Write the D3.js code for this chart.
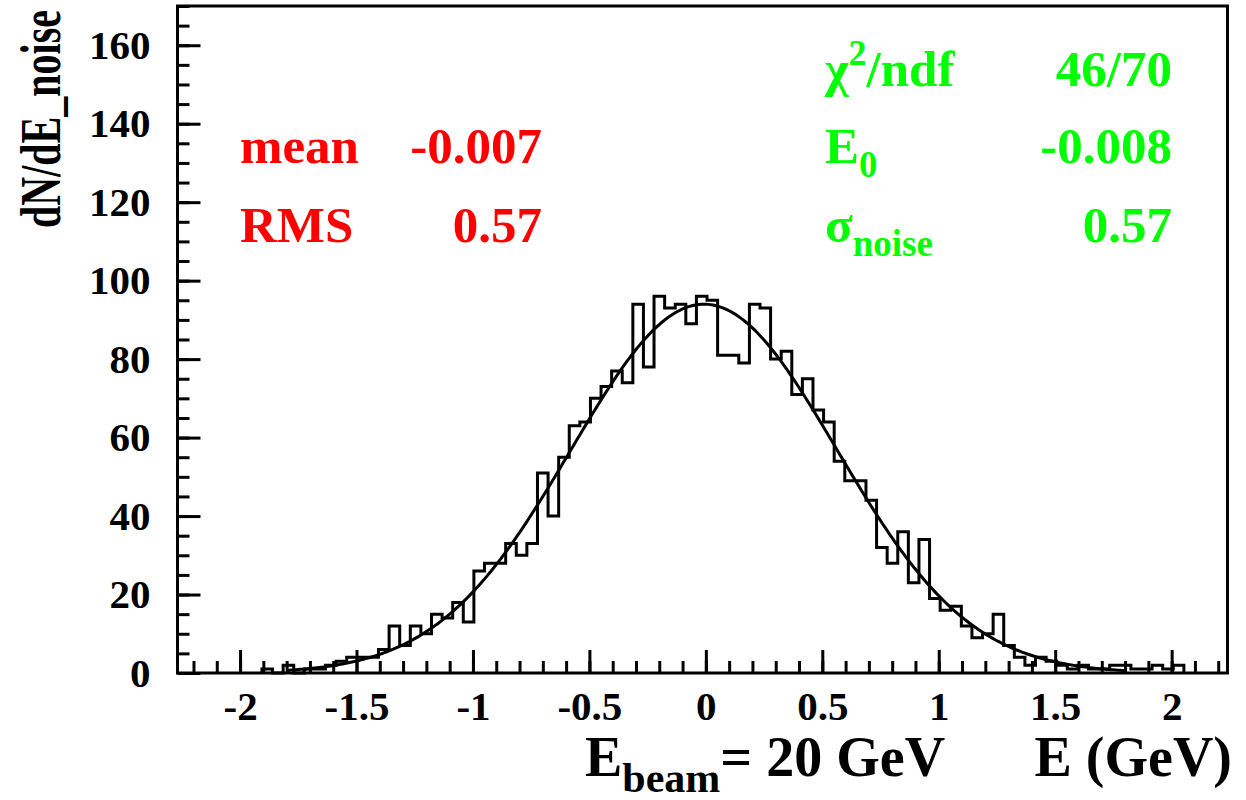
<!DOCTYPE html>
<html>
<head>
<meta charset="utf-8">
<script src="https://cdn.jsdelivr.net/npm/d3@7"></script>
<style>
  body { margin: 0; background: #fff; }
  text { font-family: "Liberation Serif", "Times New Roman", serif; font-weight: bold; }
</style>
</head>
<body>
<div id="chart"></div>
<script>
var width = 1246, height = 800,
    frame = {left: 177.5, right: 1227.5, top: 6, bottom: 673};

// histogram: first bin low edge, bin width, counts per bin
var binLow = -1.906,
    binWidth = 0.0455,
    counts = [1, 0, 2, 0, 1, 1, 2, 3, 4, 4, 4, 6,
              12, 7, 12, 10, 15, 14, 18, 13,
              26, 28, 28, 33, 30, 33,
              51, 40, 55, 63, 64, 70,
              73, 77, 74, 94, 78, 96, 93, 94, 89, 96,
              95, 81, 81, 79, 94, 93, 80, 82, 71, 75,
              67, 64, 54, 49, 49, 44, 32, 28, 36, 23,
              34, 19, 16, 17, 12, 9, 10, 15, 7, 4,
              2, 4, 3, 2, 1, 2, 1, 1, 2, 2, 1, 1, 2, 1, 2];

var xTicks = [-2, -1.5, -1, -0.5, 0, 0.5, 1, 1.5, 2],
    yTicks = [0, 20, 40, 60, 80, 100, 120, 140, 160];

// gaussian fit
var fitE0 = -0.008, fitSigma = 0.57, fitAmp = 94, fitRange = [-1.8, 1.8];

var statNames = ["mean", "RMS"],
    statValues = ["-0.007", "0.57"],
    fitValues = ["46/70", "-0.008", "0.57"];

var svg = d3.select("#chart").append("svg")
    .attr("width", width)
    .attr("height", height);

var x = d3.scaleLinear().domain([-2.2686, 2.2398]).range([frame.left, frame.right]);
var y = d3.scaleLinear().domain([0, 170]).range([frame.bottom, frame.top]);

// minor ticks
var xMinor = d3.range(-22, 23).map(d => d / 10);
var yMinor = d3.range(0, 171, 5);

svg.append("g")
    .attr("transform", "translate(0," + frame.bottom + ")")
    .call(d3.axisBottom(x).tickValues(xMinor).tickSize(-12).tickFormat(""))
    .call(g => g.select(".domain").remove());
svg.append("g")
    .attr("transform", "translate(" + frame.left + ",0)")
    .call(d3.axisLeft(y).tickValues(yMinor).tickSize(-12).tickFormat(""))
    .call(g => g.select(".domain").remove());

var xAxis = svg.append("g")
    .attr("transform", "translate(0," + frame.bottom + ")")
    .call(d3.axisBottom(x).tickValues(xTicks).tickSize(-23).tickPadding(18).tickFormat(d => d));
xAxis.select(".domain").remove();

var yAxis = svg.append("g")
    .attr("transform", "translate(" + frame.left + ",0)")
    .call(d3.axisLeft(y).tickValues(yTicks).tickSize(-23).tickPadding(27).tickFormat(d => d));
yAxis.select(".domain").remove();

svg.selectAll(".tick line").attr("stroke", "#000").attr("stroke-width", 3);
svg.selectAll(".tick text")
    .attr("fill", "#000")
    .style("font-size", "41px")
    .style("font-family", "'Liberation Serif', serif")
    .style("font-weight", "bold");
xAxis.selectAll(".tick text").text(d => String(d).replace("\u2212", "-"));

// histogram outline
var pts = [[binLow, 0]];
counts.forEach((c, i) => {
    pts.push([binLow + i * binWidth, c]);
    pts.push([binLow + (i + 1) * binWidth, c]);
});
pts.push([binLow + counts.length * binWidth, 0]);

svg.append("path")
    .datum(pts)
    .attr("fill", "none")
    .attr("stroke", "#000")
    .attr("stroke-width", 3)
    .attr("stroke-linejoin", "miter")
    .attr("d", d3.line().x(d => x(d[0])).y(d => y(d[1])));

// fit curve
var curve = d3.range(fitRange[0], fitRange[1] + 1e-9, 0.01)
    .map(e => [e, fitAmp * Math.exp(-Math.pow(e - fitE0, 2) / (2 * fitSigma * fitSigma))]);

svg.append("path")
    .datum(curve)
    .attr("fill", "none")
    .attr("stroke", "#000")
    .attr("stroke-width", 3)
    .attr("d", d3.line().x(d => x(d[0])).y(d => y(d[1])));

// frame
svg.append("rect")
    .attr("x", frame.left)
    .attr("y", frame.top)
    .attr("width", frame.right - frame.left)
    .attr("height", frame.bottom - frame.top)
    .attr("fill", "none")
    .attr("stroke", "#000")
    .attr("stroke-width", 3);

// axis titles
svg.append("text")
    .attr("transform", "translate(60,10) rotate(-90)")
    .attr("text-anchor", "end")
    .attr("textLength", 218)
    .attr("lengthAdjust", "spacingAndGlyphs")
    .style("font-size", "57px")
    .text("dN/dE_noise");

svg.append("text")
    .attr("x", 1232)
    .attr("y", 776)
    .attr("text-anchor", "end")
    .style("font-size", "56px")
    .text("E (GeV)");

var beam = svg.append("text")
    .attr("x", 585)
    .attr("y", 776)
    .style("font-size", "56px");
beam.append("tspan").text("E");
beam.append("tspan").attr("dy", 16).style("font-size", "42px").text("beam");
beam.append("tspan").attr("dy", -16).text("= 20 GeV");

// stats box (red)
var rowY = [163, 242];
statNames.forEach((n, i) => {
    svg.append("text").attr("x", 240).attr("y", rowY[i])
        .attr("fill", "#ff0000").style("font-size", "51px").text(n);
    svg.append("text").attr("x", 542).attr("y", rowY[i])
        .attr("text-anchor", "end")
        .attr("fill", "#ff0000").style("font-size", "51px").text(statValues[i]);
});

// fit box (green)
var green = "#00ff00", fitRowY = [86, 163, 242];
var t0 = svg.append("text").attr("x", 825).attr("y", fitRowY[0])
    .attr("fill", green).style("font-size", "51px");
t0.append("tspan").text("\u03c7");
t0.append("tspan").attr("dy", -21).style("font-size", "36px").text("2");
t0.append("tspan").attr("dy", 21).text("/ndf");

var t1 = svg.append("text").attr("x", 825).attr("y", fitRowY[1])
    .attr("fill", green).style("font-size", "51px");
t1.append("tspan").text("E");
t1.append("tspan").attr("dy", 14).style("font-size", "37px").text("0");

var t2 = svg.append("text").attr("x", 825).attr("y", fitRowY[2])
    .attr("fill", green).style("font-size", "51px");
t2.append("tspan").text("\u03c3");
t2.append("tspan").attr("dy", 14).style("font-size", "37px").text("noise");

fitValues.forEach((v, i) => {
    svg.append("text").attr("x", 1172).attr("y", fitRowY[i])
        .attr("text-anchor", "end")
        .attr("fill", green).style("font-size", "51px").text(v);
});
</script>
</body>
</html>
